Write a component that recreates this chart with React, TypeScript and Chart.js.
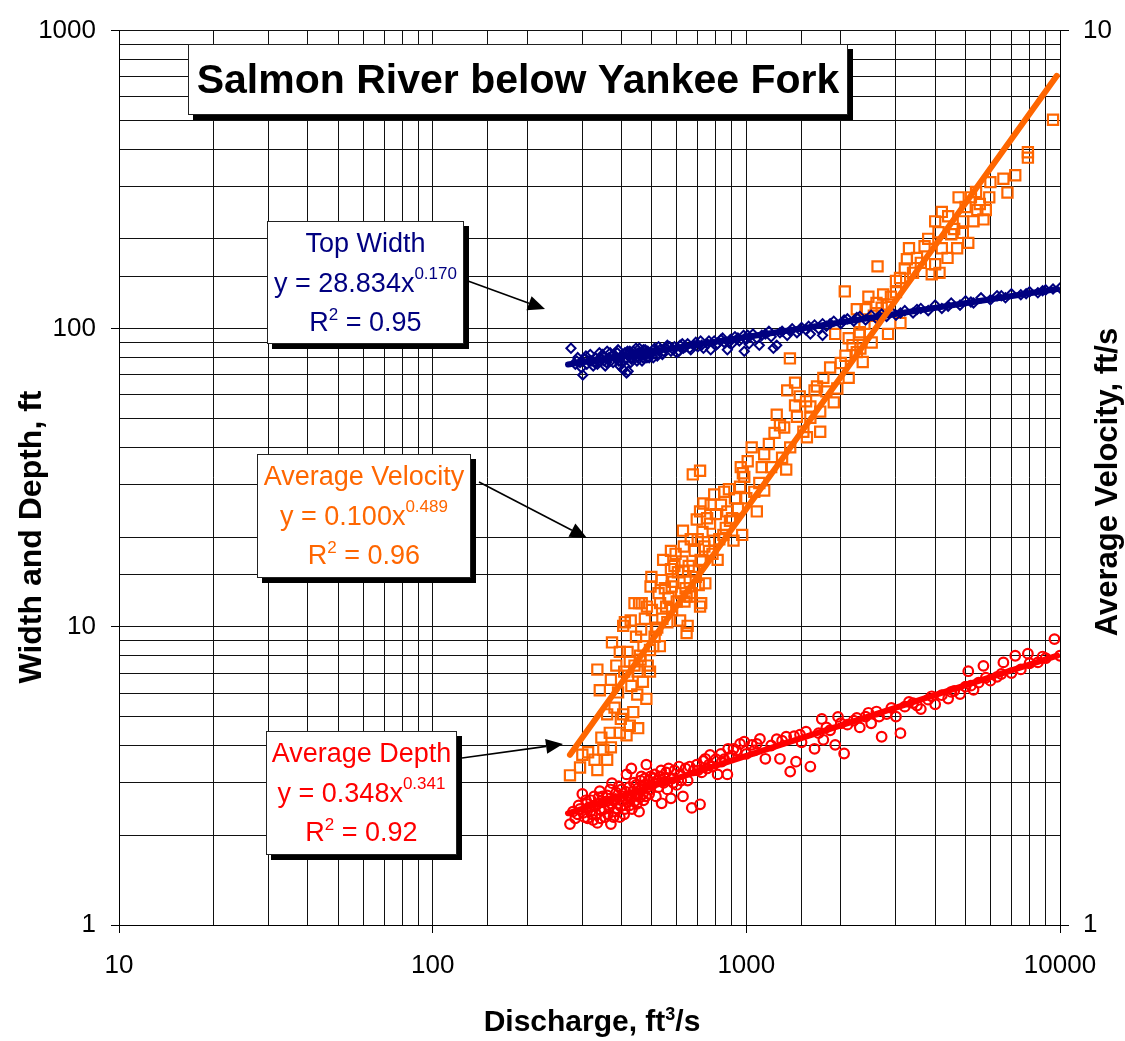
import React, { useEffect, useRef } from "react";
import { Chart, registerables } from "chart.js";

Chart.register(...registerables);

type Pt = [number, number];

// ---------- DATA ----------
const X_MIN = 10;
const X_MAX = 10000;
const LEFT_MIN = 1;
const LEFT_MAX = 1000;
const RIGHT_MIN = 1;
const RIGHT_MAX = 10;

const CHART_TITLE = "Salmon River below Yankee Fork";
const X_TITLE = ["Discharge, ft", "3", "/s"];
const LEFT_TITLE = "Width and Depth, ft";
const RIGHT_TITLE = "Average Velocity, ft/s";

const WIDTH_LABEL = ["Top Width", "y = 28.834x", "0.170", "R", "2", " = 0.95"];
const VELOCITY_LABEL = ["Average Velocity", "y = 0.100x", "0.489", "R", "2", " = 0.96"];
const DEPTH_LABEL = ["Average Depth", "y = 0.348x", "0.341", "R", "2", " = 0.92"];

// Top width, ft (left axis)
const WIDTH_PTS: Pt[] = [
  [276, 86], [285, 76], [288, 78], [290, 80], [295, 77], [298, 74], [301, 70], [305, 79], [308, 81],
  [310, 76], [315, 78], [318, 82], [322, 78], [325, 75], [328, 77], [330, 80], [335, 76], [338, 78],
  [340, 83], [342, 80], [345, 79], [348, 82], [350, 81], [352, 78], [355, 75], [358, 77], [360, 84],
  [362, 79], [365, 80], [368, 83], [370, 78], [372, 81], [376, 77], [378, 82], [382, 80], [385, 79],
  [388, 83], [390, 85], [392, 78], [395, 75], [398, 80], [400, 77], [402, 81], [405, 73], [408, 78],
  [410, 83], [412, 79], [415, 71], [418, 84], [420, 72], [422, 82], [425, 84], [428, 77], [430, 79],
  [432, 80], [436, 84], [438, 82], [442, 81], [445, 86], [448, 78], [450, 80], [452, 83], [456, 86],
  [458, 83], [462, 81], [465, 78], [468, 80], [470, 85], [472, 82], [476, 85], [478, 82], [482, 80],
  [485, 84], [488, 83], [490, 80], [495, 82], [500, 83], [505, 80], [510, 86], [515, 84], [520, 81],
  [525, 87], [530, 85], [540, 82], [545, 84], [555, 86], [560, 88], [570, 87], [575, 84], [585, 85],
  [590, 87], [600, 83], [610, 84], [615, 88], [625, 89], [630, 86], [640, 87], [650, 89], [660, 86],
  [665, 85], [680, 88], [690, 90], [700, 87], [715, 91], [720, 88], [730, 86], [750, 89], [760, 91],
  [770, 85], [790, 91], [800, 88], [810, 89], [830, 92], [840, 93], [850, 90], [870, 85], [880, 90],
  [890, 92], [900, 89], [920, 94], [940, 93], [950, 91], [980, 95], [985, 84], [1000, 92], [1010, 95],
  [1020, 89], [1050, 96], [1080, 93], [1100, 88], [1120, 95], [1150, 96], [1180, 98], [1200, 94],
  [1220, 86], [1250, 88], [1280, 97], [1300, 98], [1350, 95], [1380, 98], [1400, 100], [1450, 97],
  [1480, 99], [1500, 101], [1550, 99], [1580, 102], [1600, 96], [1650, 103], [1700, 100], [1750, 95],
  [1750, 104], [1800, 102], [1850, 104], [1900, 106], [2000, 104], [2050, 107], [2100, 108],
  [2200, 106], [2250, 109], [2300, 110], [2400, 107], [2500, 111], [2600, 108], [2650, 110],
  [2700, 112], [2800, 110], [2900, 114], [3000, 111], [3100, 113], [3200, 115], [3400, 113],
  [3500, 116], [3600, 117], [3800, 115], [4000, 120], [4200, 117], [4400, 119], [4500, 122],
  [4800, 120], [5000, 124], [5200, 123], [5300, 122], [5600, 127], [6000, 125], [6300, 129],
  [6500, 129], [6700, 127], [7000, 131], [7500, 130], [7800, 131], [8000, 133], [8500, 132],
  [8800, 134], [9000, 135], [9500, 136], [10000, 137],
];

// Average velocity, ft/s (right axis)
const VELOCITY_PTS: Pt[] = [
  [274, 1.47], [295, 1.5], [300, 1.55], [313, 1.56], [328, 1.53], [335, 1.49], [335, 1.93], [341, 1.83],
  [345, 1.62], [350, 1.57], [360, 1.53], [360, 1.72], [367, 1.64], [370, 1.58], [370, 1.88], [373, 2.07],
  [380, 1.75], [385, 1.95], [390, 1.82], [395, 1.64], [395, 2.02], [398, 1.7], [405, 1.72], [405, 2.16],
  [408, 1.92], [410, 2.18], [415, 1.63], [418, 2.02], [420, 1.9], [425, 1.67], [425, 1.97], [428, 2.19],
  [430, 1.85], [436, 1.73], [440, 2.29], [440, 1.95], [445, 2.1], [449, 1.81], [450, 1.92], [452, 1.66],
  [455, 2.29], [458, 2.0], [460, 1.98], [462, 2.14], [464, 2.29], [468, 1.87], [470, 2.05], [475, 2.2],
  [480, 1.79], [482, 2.27], [485, 1.95], [493, 2.03], [495, 2.39], [493, 1.92], [498, 2.45], [500, 2.25],
  [505, 2.05], [510, 2.1], [515, 2.14], [520, 2.15], [525, 2.35], [530, 2.05], [531, 2.29], [537, 2.43],
  [540, 2.2], [543, 2.56], [550, 2.38], [555, 2.27], [560, 2.18], [565, 2.32], [575, 2.5], [575, 2.62],
  [578, 2.39], [580, 2.25], [585, 2.42], [590, 2.52], [595, 2.6], [600, 2.3], [605, 2.48], [615, 2.19],
  [620, 2.35], [625, 2.55], [628, 2.49], [628, 2.76], [632, 2.65], [635, 2.3], [640, 2.38], [645, 2.12],
  [645, 2.33], [650, 2.16], [655, 2.52], [660, 2.42], [661, 2.33], [665, 2.7], [670, 2.35], [675, 3.19],
  [680, 2.49], [685, 2.62], [690, 2.45], [695, 2.84], [700, 2.7], [705, 2.4], [712, 2.27], [712, 3.22],
  [712, 2.9], [715, 2.56], [718, 2.29], [720, 2.55], [725, 2.75], [730, 2.96], [735, 2.65], [740, 2.41],
  [750, 2.85], [760, 2.62], [766, 2.81], [770, 2.95], [780, 2.6], [790, 3.03], [790, 2.69], [800, 2.88],
  [810, 2.56], [820, 2.7], [830, 2.95], [845, 2.73], [850, 3.05], [860, 2.78], [870, 2.9], [880, 3.07],
  [887, 2.83], [900, 2.85], [910, 2.69], [920, 3.0], [940, 2.92], [955, 3.09], [960, 3.25], [970, 2.73],
  [975, 3.2], [985, 3.17], [1000, 3.0], [1010, 3.3], [1040, 3.42], [1060, 3.05], [1080, 2.9],
  [1100, 3.12], [1120, 3.25], [1140, 3.36], [1140, 3.06], [1180, 3.45], [1200, 3.25], [1230, 3.55],
  [1250, 3.72], [1280, 3.62], [1300, 3.33], [1320, 3.6], [1340, 3.23], [1350, 3.96], [1377, 4.3],
  [1380, 3.42], [1430, 4.04], [1430, 3.81], [1450, 3.7], [1480, 3.9], [1520, 3.56], [1550, 3.85],
  [1560, 3.51], [1600, 3.69], [1600, 3.8], [1650, 3.96], [1680, 4.0], [1720, 3.75], [1720, 3.56],
  [1760, 4.09], [1800, 3.95], [1850, 4.2], [1900, 3.84], [1920, 4.58], [1950, 3.98], [2000, 4.25],
  [2060, 5.11], [2070, 4.33], [2120, 4.09], [2120, 4.53], [2180, 4.45], [2250, 4.88], [2250, 4.37],
  [2290, 4.57], [2300, 4.6], [2310, 4.41], [2350, 4.26], [2380, 4.7], [2400, 4.88], [2450, 5.04],
  [2510, 4.48], [2550, 4.8], [2600, 4.96], [2620, 5.45], [2700, 4.9], [2730, 5.07], [2830, 4.94],
  [2830, 4.58], [2890, 5.04], [3000, 5.1], [3000, 5.25], [3090, 5.29], [3100, 4.71], [3200, 5.42],
  [3250, 5.55], [3300, 5.71], [3400, 5.36], [3500, 5.57], [3600, 5.5], [3700, 5.74], [3800, 5.85],
  [3900, 5.34], [4000, 6.12], [4000, 5.48], [4100, 5.95], [4130, 5.36], [4200, 6.27], [4200, 5.71],
  [4380, 5.57], [4400, 6.2], [4500, 5.92], [4600, 6.0], [4700, 5.71], [4750, 6.51], [4900, 6.12],
  [4900, 5.94], [5000, 6.35], [5100, 5.79], [5200, 6.51], [5300, 6.12], [5400, 6.6], [5450, 6.3],
  [5550, 6.4], [5700, 6.15], [5800, 6.3], [5950, 6.51], [6000, 6.77], [6600, 6.83], [6800, 6.59],
  [7200, 6.89], [7900, 7.31], [7900, 7.21], [9500, 7.95],
];

// Average depth, ft (left axis)
const DEPTH_PTS: Pt[] = [
  [274, 2.18], [280, 2.4], [285, 2.28], [290, 2.35], [292, 2.52], [295, 2.45], [300, 2.75], [302, 2.38],
  [305, 2.3], [308, 2.62], [310, 2.55], [312, 2.28], [315, 2.48], [318, 2.4], [320, 2.62], [322, 2.35],
  [325, 2.25], [327, 2.7], [330, 2.5], [332, 2.35], [335, 2.2], [336, 2.55], [338, 2.68], [341, 2.81],
  [343, 2.28], [345, 2.42], [348, 2.7], [350, 2.58], [352, 2.45], [355, 2.3], [358, 2.6], [360, 2.72],
  [362, 2.35], [365, 2.48], [368, 2.85], [370, 2.18], [372, 2.55], [373, 2.99], [375, 2.62], [377, 2.3],
  [380, 2.4], [382, 2.65], [385, 2.78], [388, 2.45], [390, 2.55], [392, 2.92], [395, 2.3], [398, 2.5],
  [400, 2.85], [403, 2.7], [405, 2.62], [408, 2.35], [410, 2.45], [412, 2.8], [415, 3.2], [418, 2.58],
  [420, 2.7], [423, 2.9], [425, 2.52], [428, 2.65], [430, 3.35], [432, 2.45], [435, 2.8], [438, 3.0],
  [440, 2.6], [442, 2.75], [445, 2.95], [448, 2.55], [450, 2.72], [453, 2.88], [455, 2.4], [458, 2.68],
  [460, 3.05], [463, 3.15], [465, 2.85], [468, 2.75], [470, 2.62], [473, 2.95], [475, 3.1], [478, 2.7],
  [480, 3.45], [485, 2.9], [488, 3.05], [490, 2.75], [493, 2.85], [495, 3.15], [500, 2.95], [505, 3.1],
  [510, 3.2], [515, 2.7], [520, 3.05], [525, 2.9], [531, 3.15], [535, 3.3], [537, 2.56], [545, 3.0],
  [550, 3.1], [555, 3.25], [560, 2.85], [565, 3.35], [575, 2.66], [580, 3.1], [585, 3.0], [590, 3.3],
  [600, 2.95], [610, 3.4], [615, 3.2], [620, 3.05], [628, 2.7], [640, 3.35], [650, 3.05], [660, 3.4],
  [670, 2.47], [680, 3.3], [695, 3.45], [700, 3.3], [712, 2.54], [720, 3.25], [730, 3.55], [740, 3.61],
  [750, 3.35], [760, 3.45], [766, 3.72], [780, 3.4], [800, 3.6], [810, 3.2], [830, 3.75], [835, 3.53],
  [850, 3.6], [870, 3.2], [875, 3.9], [880, 3.65], [900, 3.7], [910, 3.9], [930, 3.85], [955, 4.05],
  [985, 4.12], [1000, 3.75], [1040, 4.02], [1060, 3.85], [1080, 4.05], [1105, 4.21], [1150, 3.61],
  [1200, 4.0], [1250, 4.2], [1280, 3.61], [1300, 4.15], [1340, 4.28], [1380, 3.27], [1420, 4.3],
  [1440, 3.53], [1483, 4.35], [1500, 4.1], [1550, 4.45], [1600, 3.4], [1650, 3.9], [1700, 4.4],
  [1740, 4.91], [1760, 4.18], [1800, 4.6], [1850, 4.5], [1920, 4.02], [1960, 4.99], [2000, 4.75],
  [2050, 3.76], [2100, 4.7], [2200, 4.85], [2250, 4.95], [2300, 4.6], [2400, 5.0], [2450, 5.15],
  [2500, 4.75], [2600, 5.2], [2650, 5.0], [2700, 4.28], [2800, 5.1], [2900, 5.35], [3000, 5.0],
  [3100, 4.4], [3200, 5.4], [3300, 5.6], [3400, 5.55], [3500, 5.45], [3600, 5.3], [3800, 5.7],
  [3900, 5.85], [4000, 5.5], [4200, 5.9], [4400, 5.75], [4500, 6.05], [4600, 6.1], [4800, 5.95],
  [5000, 6.3], [5100, 7.1], [5200, 6.35], [5300, 6.15], [5500, 6.5], [5700, 7.4], [5800, 6.75],
  [6000, 6.6], [6300, 6.8], [6500, 6.95], [6600, 7.6], [7000, 7.0], [7200, 8.0], [7500, 7.2],
  [7900, 8.13], [8000, 7.55], [8500, 7.6], [8800, 7.95], [9000, 7.85], [9600, 9.1], [10000, 8.0],
];

// Power-law trend lines, end points
const WIDTH_TREND: Pt[] = [[270, 75.9], [9800, 136]];
const VELOCITY_TREND: Pt[] = [[274, 1.55], [9770, 8.9]];
const DEPTH_TREND: Pt[] = [[270, 2.37], [9800, 8.01]];

// ---------- STYLE / LAYOUT ----------
const NAVY = "#000080";
const ORANGE = "#FF6600";
const RED = "#FF0000";
const FAMILY = '"Liberation Sans", Arial, Helvetica, sans-serif';

const isMajor = (v: number) => {
  if (!v || v <= 0) return false;
  const l = Math.log10(v);
  return Math.abs(l - Math.round(l)) < 1e-6;
};

type Seg = { t: string; sup?: boolean };

function drawRich(
  ctx: CanvasRenderingContext2D,
  segs: Seg[],
  cx: number,
  baseline: number,
  size: number,
  supSize: number,
  supRise: number,
  bold: boolean,
  color: string
) {
  const f = (s: number) => `${bold ? "bold " : ""}${s}px ${FAMILY}`;
  let total = 0;
  for (const s of segs) {
    ctx.font = f(s.sup ? supSize : size);
    total += ctx.measureText(s.t).width;
  }
  let x = cx - total / 2;
  ctx.textAlign = "left";
  ctx.textBaseline = "alphabetic";
  ctx.fillStyle = color;
  for (const s of segs) {
    ctx.font = f(s.sup ? supSize : size);
    ctx.fillText(s.t, x, s.sup ? baseline - supRise : baseline);
    x += ctx.measureText(s.t).width;
  }
}

function drawShadowBox(ctx: CanvasRenderingContext2D, x: number, y: number, w: number, h: number) {
  ctx.fillStyle = "#000";
  ctx.fillRect(x + 5, y + 5, w, h);
  ctx.fillStyle = "#fff";
  ctx.fillRect(x, y, w, h);
  ctx.strokeStyle = "#222";
  ctx.lineWidth = 1;
  ctx.strokeRect(x + 0.5, y + 0.5, w - 1, h - 1);
}

function drawArrow(ctx: CanvasRenderingContext2D, x1: number, y1: number, x2: number, y2: number) {
  const ang = Math.atan2(y2 - y1, x2 - x1);
  const len = 17;
  const hw = 7.5;
  const bx = x2 - len * Math.cos(ang);
  const by = y2 - len * Math.sin(ang);
  ctx.strokeStyle = "#000";
  ctx.lineWidth = 1.6;
  ctx.beginPath();
  ctx.moveTo(x1, y1);
  ctx.lineTo(bx, by);
  ctx.stroke();
  ctx.fillStyle = "#000";
  ctx.beginPath();
  ctx.moveTo(x2, y2);
  ctx.lineTo(bx + hw * Math.sin(ang), by - hw * Math.cos(ang));
  ctx.lineTo(bx - hw * Math.sin(ang), by + hw * Math.cos(ang));
  ctx.closePath();
  ctx.fill();
}

type Note = {
  label: string[];
  color: string;
  box: [number, number, number, number];
  arrow: [number, number, number, number];
};

const NOTES: Note[] = [
  { label: WIDTH_LABEL, color: NAVY, box: [267, 221, 197, 123], arrow: [468, 281, 545, 309] },
  { label: VELOCITY_LABEL, color: ORANGE, box: [257, 454, 214, 124], arrow: [479, 482, 587, 538] },
  { label: DEPTH_LABEL, color: RED, box: [266, 731, 191, 124], arrow: [462, 758, 563, 744] },
];

const overlayPlugin = {
  id: "overlay",
  afterDraw(chart: any) {
    const ctx: CanvasRenderingContext2D = chart.ctx;
    ctx.save();

    // Title box
    drawShadowBox(ctx, 188, 44, 660, 71);
    drawRich(ctx, [{ t: CHART_TITLE }], 518, 93, 41, 24, 0, true, "#000");

    // Annotation boxes and arrows
    for (const n of NOTES) {
      const [bx, by, bw, bh] = n.box;
      drawArrow(ctx, n.arrow[0], n.arrow[1], n.arrow[2], n.arrow[3]);
      drawShadowBox(ctx, bx, by, bw, bh);
      const cx = bx + bw / 2;
      const L = n.label;
      drawRich(ctx, [{ t: L[0] }], cx, by + 31, 27, 17, 12, false, n.color);
      drawRich(ctx, [{ t: L[1] }, { t: L[2], sup: true }], cx, by + 71, 27, 17, 13, false, n.color);
      drawRich(ctx, [{ t: L[3] }, { t: L[4], sup: true }, { t: L[5] }], cx, by + 110, 27, 17, 11, false, n.color);
    }

    // Axis titles
    drawRich(
      ctx,
      [{ t: X_TITLE[0] }, { t: X_TITLE[1], sup: true }, { t: X_TITLE[2] }],
      592,
      1031,
      30,
      18,
      11,
      true,
      "#000"
    );

    ctx.save();
    ctx.translate(30, 537);
    ctx.rotate(-Math.PI / 2);
    drawRich(ctx, [{ t: LEFT_TITLE }], 0, 11, 32, 18, 0, true, "#000");
    ctx.restore();

    ctx.save();
    ctx.translate(1106, 482);
    ctx.rotate(-Math.PI / 2);
    drawRich(ctx, [{ t: RIGHT_TITLE }], 0, 11, 31, 18, 0, true, "#000");
    ctx.restore();

    ctx.restore();
  },
};

const toXY = (arr: Pt[]) => arr.map(([x, y]) => ({ x, y }));

export default function App() {
  const ref = useRef<HTMLCanvasElement | null>(null);

  useEffect(() => {
    if (!ref.current) return;
    const tickFont = { family: FAMILY, size: 26 };
    const tickColorFn = (c: any) => (c.tick && isMajor(c.tick.value) ? "#000" : "rgba(0,0,0,0)");
    const labelFn = (v: any) => (isMajor(Number(v)) ? String(Number(v)) : "");

    const chart = new Chart(ref.current, {
      type: "scatter",
      data: {
        datasets: [
          {
            label: "Velocity trend",
            data: toXY(VELOCITY_TREND),
            yAxisID: "y1",
            showLine: true,
            borderColor: ORANGE,
            borderWidth: 6,
            borderCapStyle: "round",
            pointRadius: 0,
          } as any,
          {
            label: "Width trend",
            data: toXY(WIDTH_TREND),
            yAxisID: "y",
            showLine: true,
            borderColor: NAVY,
            borderWidth: 6,
            borderCapStyle: "round",
            pointRadius: 0,
          } as any,
          {
            label: "Top Width",
            data: toXY(WIDTH_PTS),
            yAxisID: "y",
            pointStyle: "rectRot",
            pointRadius: 4.6,
            borderColor: NAVY,
            backgroundColor: "rgba(0,0,0,0)",
            borderWidth: 2,
          },
          {
            label: "Depth trend",
            data: toXY(DEPTH_TREND),
            yAxisID: "y",
            showLine: true,
            borderColor: RED,
            borderWidth: 6,
            borderCapStyle: "round",
            pointRadius: 0,
          } as any,
          {
            label: "Average Velocity",
            data: toXY(VELOCITY_PTS),
            yAxisID: "y1",
            pointStyle: "rect",
            pointRadius: 7.2,
            borderColor: ORANGE,
            backgroundColor: "rgba(0,0,0,0)",
            borderWidth: 2.2,
          },
          {
            label: "Average Depth",
            data: toXY(DEPTH_PTS),
            yAxisID: "y",
            pointStyle: "circle",
            pointRadius: 4.8,
            borderColor: RED,
            backgroundColor: "rgba(0,0,0,0)",
            borderWidth: 2.2,
          },
        ],
      },
      options: {
        responsive: false,
        animation: false,
        events: [],
        layout: { padding: { top: 22, left: 0, right: 0, bottom: 0 } },
        plugins: {
          legend: { display: false },
          tooltip: { enabled: false },
          title: { display: false },
        },
        scales: {
          x: {
            type: "logarithmic",
            position: "bottom",
            min: X_MIN,
            max: X_MAX,
            grid: { color: "#111", lineWidth: 1, tickLength: 8, tickColor: tickColorFn as any },
            border: { color: "#000", width: 1 },
            ticks: {
              autoSkip: false,
              maxRotation: 0,
              minRotation: 0,
              padding: 17,
              color: "#000",
              font: tickFont,
              callback: labelFn,
            },
            afterFit: (s: any) => {
              s.height = 116;
            },
          },
          y: {
            type: "logarithmic",
            position: "left",
            min: LEFT_MIN,
            max: LEFT_MAX,
            grid: { color: "#111", lineWidth: 1, tickLength: 8, tickColor: tickColorFn as any },
            border: { color: "#000", width: 1 },
            ticks: {
              autoSkip: false,
              padding: 15,
              color: "#000",
              font: tickFont,
              callback: labelFn,
            },
            afterFit: (s: any) => {
              s.width = 119;
            },
          },
          y1: {
            type: "logarithmic",
            position: "right",
            min: RIGHT_MIN,
            max: RIGHT_MAX,
            grid: { drawOnChartArea: false, tickLength: 9, tickColor: tickColorFn as any },
            border: { color: "#000", width: 1 },
            ticks: {
              autoSkip: false,
              padding: 14,
              color: "#000",
              font: tickFont,
              callback: labelFn,
            },
            afterFit: (s: any) => {
              s.width = 65;
            },
          },
        },
      } as any,
      plugins: [overlayPlugin],
    });
    return () => chart.destroy();
  }, []);

  return (
    <div style={{ position: "absolute", left: 0, top: 0, width: 1125, height: 1041, background: "#fff" }}>
      <canvas ref={ref} width={1125} height={1041} style={{ display: "block" }} />
    </div>
  );
}
